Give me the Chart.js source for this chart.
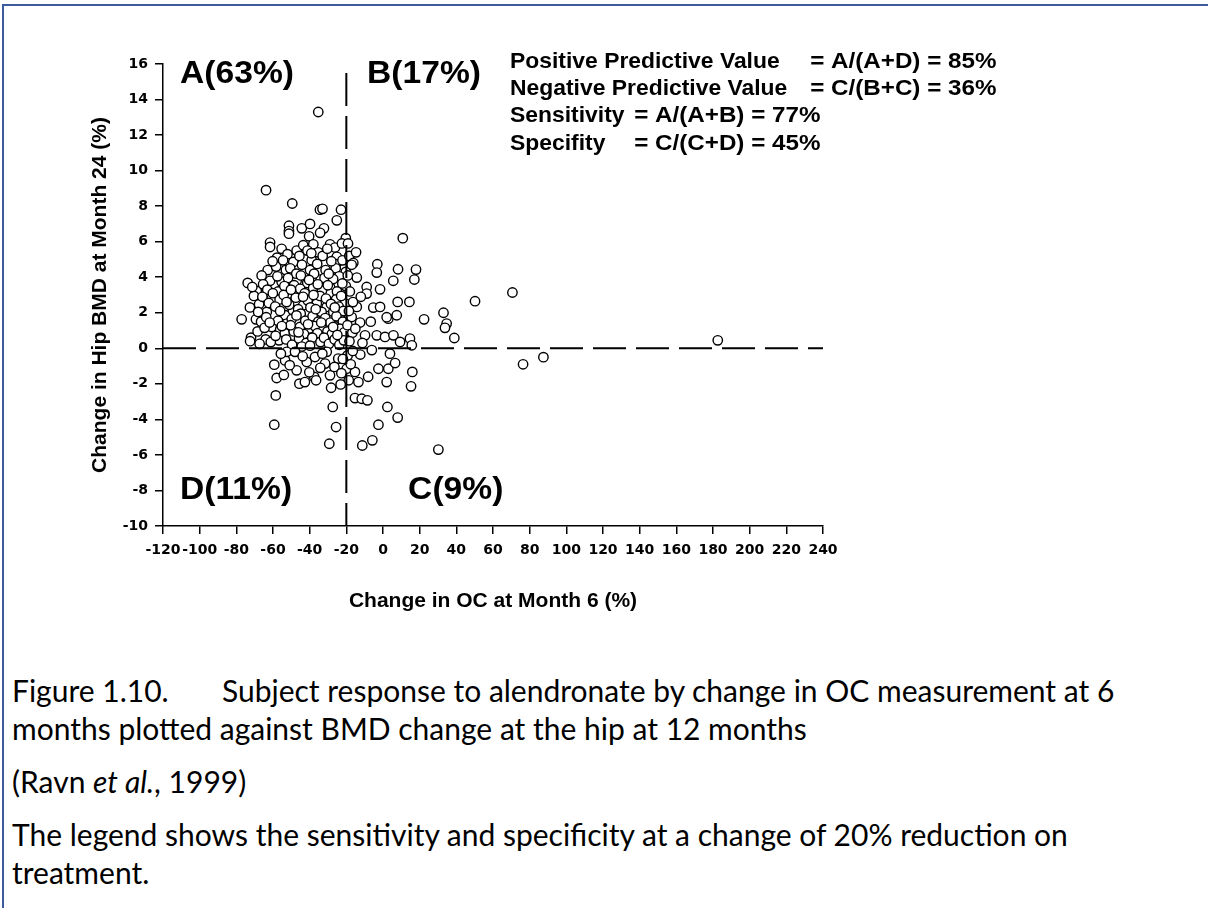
<!DOCTYPE html>
<html>
<head>
<meta charset="utf-8">
<title>Change in OC vs hip BMD</title>
<script src="https://cdn.jsdelivr.net/npm/chart.js@4.4.0/dist/chart.umd.min.js"></script>
<style>
  html, body { margin: 0; padding: 0; background: #fff; }
  body { width: 1208px; height: 908px; position: relative; overflow: hidden; }
  #frame { position: absolute; left: 2px; top: 4px; width: 1220px; height: 920px;
           border-left: 2px solid #3b5b9e; border-top: 2px solid #3b5b9e; }
  #plot { position: absolute; left: 0; top: 0; }
  .cap { position: absolute; left: 12px; white-space: nowrap; font-family: Lato, "Noto Sans", sans-serif;
         font-size: 30px; line-height: 38px; color: #000; }
</style>
</head>
<body>
<div id="frame"></div>
<canvas id="plot" width="1208" height="640"></canvas>
<div class="cap" style="top:671px">Figure 1.10.<span style="position:absolute;left:210px">Subject response to alendronate by change in OC measurement at 6</span></div>
<div class="cap" style="top:709px">months plotted against BMD change at the hip at 12 months</div>
<div class="cap" style="top:762px">(Ravn <i>et al.</i>, 1999)</div>
<div class="cap" style="top:815px">The legend shows the sensitivity and specificity at a change of 20% reduction on</div>
<div class="cap" style="top:853px">treatment.</div>
<script>
'use strict';

// [change in OC at month 6 (%), change in hip BMD at month 24 (%)] by quadrant
var groupA = [
  [-35.3,13.3],[-63.8,8.9],[-49.5,8.15],[-34.4,7.8],[-33.0,7.85],[-22.9,7.8],[-25.2,7.2],[-51.3,6.9],
  [-51.3,6.6],[-51.3,6.45],[-44.3,6.75],[-39.8,7.0],[-32.2,6.75],[-40.3,6.3],[-34.3,6.5],[-61.6,5.95],
  [-61.6,5.7],[-55.3,5.6],[-47.1,5.5],[-43.5,5.8],[-38.0,5.85],[-35.3,5.4],[-28.9,5.85],[-26.2,5.67],
  [-25.2,5.15],[-32.9,5.2],[-48.9,4.86],[-38.9,4.96],[-25.6,4.73],[-62.9,4.4],[-53.0,4.4],[-39.8,4.4],
  [-31.3,4.4],[-25.8,4.5],[-20.3,4.3],[-73.8,3.68],[-61.6,3.8],[-55.3,3.74],[-47.1,3.8],[-41.3,3.68],
  [-34.0,3.87],[-28.9,3.45],[-20.3,3.5],[-68.9,3.23],[-20.3,6.2],[-70.4,2.95],[-67.6,2.48],[-77.1,1.63],
  [-69.3,1.63],[-63.4,2.05],[-60.7,2.8],[-60.7,1.2],[-72.0,0.6],[-72.5,0.4],[-64.0,0.5],[-56.7,0.45],
  [-53.4,1.86],[-52.5,1.39],[-51.3,3.08],[-49.2,2.14],[-45.3,1.2],[-39.8,3.08],[-43.5,2.42],[-36.1,2.52],
  [-33.4,1.11],[-40.2,1.11],[-30.7,2.33],[-27.1,2.05],[-28.9,3.08],[-26.2,1.11],[-20.7,2.52],[-23.4,1.67],
  [-52.1,5.3],[-45.6,5.2],[-41.2,5.5],[-30.4,5.6],[-22.4,5.9],[-57.8,5.1],
  [-58.3,4.6],[-50.6,4.5],[-44.2,4.7],[-35.9,4.75],[-28.2,4.9],[-22.1,4.95],[-66.2,4.1],[-47.3,4.2],
  [-57.6,4.05],[-51.8,3.95],[-44.8,4.1],[-37.6,4.2],[-31.9,3.95],[-23.9,4.05],[-65.4,3.6],[-27.2,3.9],[-48.5,3.55],
  [-71.3,3.45],[-63.1,3.3],[-57.2,3.2],[-53.8,3.5],[-45.2,3.35],[-38.1,3.4],[-33.3,3.25],[-25.1,3.2],
  [-22.2,3.65],[-42.7,3.1],[-35.6,3.6],
  [-65.8,2.9],[-56.4,2.75],[-54.2,3.0],[-47.6,2.85],[-41.1,2.7],[-34.4,2.95],[-31.1,2.8],[-25.6,2.75],
  [-22.8,2.95],[-62.3,2.55],[-37.9,3.0],
  [-72.6,2.3],[-68.1,2.05],[-58.8,2.35],[-56.1,2.1],[-51.2,2.45],[-46.3,2.2],[-39.6,2.3],[-33.5,2.05],
  [-28.4,2.5],[-24.2,2.35],[-21.6,2.1],[-44.9,1.95],
  [-66.5,1.5],[-63.7,1.75],[-57.3,1.55],[-49.8,1.65],[-47.2,1.85],[-42.4,1.55],[-38.4,1.8],[-35.3,1.5],
  [-31.5,1.7],[-28.7,1.45],[-25.4,1.8],[-21.9,1.5],
  [-68.4,0.95],[-64.6,1.15],[-56.1,1.05],[-53.6,0.85],[-48.7,0.95],[-43.1,0.8],[-37.2,1.25],[-35.8,0.85],
  [-30.3,0.95],[-27.9,0.8],[-23.6,1.1],[-21.1,0.9],[-50.4,1.3],
  [-67.3,0.25],[-61.2,0.35],[-58.6,0.7],[-52.8,0.5],[-49.6,0.2],[-45.8,0.55],[-41.9,0.3],[-38.6,0.6],
  [-34.1,0.35],[-32.2,0.6],[-29.5,0.25],[-26.4,0.5],[-23.8,0.2],[-21.4,0.45],[-44.3,0.1],
  [-60.2,4.9],[-54.5,4.95],[-39.1,5.35],[-29.6,4.2],[-50.2,3.3],[-40.3,3.85],[-30.1,3.55],[-60.1,3.1],
  [-52.6,2.6],[-43.6,2.9],[-36.7,2.2],[-26.3,2.3],[-61.8,1.45],[-55.2,1.25],[-40.9,1.35],[-33.7,1.45],
  [-46.1,0.9],[-39.8,0.15],[-27.2,1.2],[-24.9,0.75]
];
var groupB = [
  [-18.4,5.2],[-14.7,5.4],[-16.2,4.8],[-14.3,3.98],[-3.1,4.73],[-3.4,4.26],[8.2,4.45],[18.0,4.43],
  [17.1,3.87],[5.6,3.8],[-1.6,3.32],[-8.9,3.45],[10.8,6.2],[-17.1,1.76],[-16.7,0.88],[-14.3,2.33],
  [-8.9,3.08],[-12.5,1.45],[-5.3,2.29],[-1.6,2.33],[-9.8,0.73],[-3.4,0.73],[1.1,0.64],[5.7,0.73],
  [2.9,1.67],[7.5,1.86],[8.0,2.61],[14.4,2.61],[9.3,0.36],[14.7,0.55],[15.7,0.17],[22.4,1.63],
  [33.0,2.0],[34.7,1.39],[33.8,1.15],[38.9,0.58],[50.2,2.65],[70.6,3.14],[182.6,0.45],[2.0,1.75],
  [-19.2,4.1],[-18.1,3.2],[-16.4,2.6],[-18.6,2.1],[-12.1,2.9],[-19.4,1.3],[-15.1,1.1],[-18.3,0.4],
  [-11.2,0.3],[-6.7,1.5],[-19.1,5.9],[-17.1,4.7]
];
var groupC = [
  [-19.8,-1.15],[-15.3,-1.33],[-13.4,-1.9],[-15.3,-2.8],[-11.6,-2.84],[-8.5,-2.93],[-11.3,-5.47],[-5.8,-5.18],
  [-2.5,-4.3],[2.4,-3.3],[8.0,-3.9],[-6.1,-0.1],[-2.5,-1.15],[3.8,-0.3],[2.9,-1.15],[6.6,-0.83],
  [2.0,-1.9],[16.0,-1.33],[15.3,-2.14],[30.2,-5.7],[87.5,-0.5],[76.4,-0.9],
  [-19.3,-0.4],[-17.6,-0.9],[-12.4,-0.35],[-18.7,-1.8],[-16.5,-0.15],[-8.1,-1.6]
];
var groupD = [
  [-59.3,-0.92],[-58.0,-1.67],[-58.5,-2.65],[-59.3,-4.3],[-53.4,-0.68],[-52.5,-0.2],[-48.0,-0.2],[-47.1,-1.24],
  [-45.6,-1.99],[-41.6,-0.77],[-37.5,-1.61],[-36.5,-1.8],[-37.1,-0.49],[-30.7,-0.2],[-31.6,-0.86],[-28.9,-1.52],
  [-28.3,-2.22],[-24.4,-0.58],[-23.1,-2.03],[-27.4,-3.3],[-25.6,-4.43],[-29.3,-5.37],
  [-55.7,-0.3],[-50.9,-0.95],[-43.8,-0.45],[-40.2,-1.35],[-34.2,-1.1],[-33.1,-0.3],[-26.5,-1.05],[-21.9,-0.6],
  [-22.7,-1.4],[-42.6,-1.9],[-54.1,-1.5]
];

// cut-off at a 20% reduction in OC, and no change in BMD
var ocCutoff = -20;
var bmdCutoff = 0;

var quadrantNames = ['A(63%)', 'B(17%)', 'C(9%)', 'D(11%)'];
var legendNames = ['Positive Predictive Value', 'Negative Predictive Value', 'Sensitivity', 'Specifity'];
var legendFormulas = ['= A/(A+D) = 85%', '= C/(B+C) = 36%', '= A/(A+B) = 77%', '= C/(C+D) = 45%'];

var FONT = '"Liberation Sans", Arial, Helvetica, sans-serif';

var toPoints = function(rows) {
  return rows.map(function(r) { return {x: r[0], y: r[1]}; });
};
var allPoints = [].concat(toPoints(groupA), toPoints(groupB), toPoints(groupC), toPoints(groupD));

// quadrant letters and the predictive value block, anchored in data units
var quadrantSpots = [[-110.7, 15.4], [-8.7, 15.4], [13.7, -8.0], [-110.7, -8.0]];
var legendRowY = [16.1, 14.6, 13.05, 11.5];

var wideText = function(ctx, text, px, py, sx) {
  ctx.save();
  ctx.translate(px, py);
  ctx.scale(sx, 1);
  ctx.fillText(text, 0, 0);
  ctx.restore();
};

var notes = {
  id: 'notes',
  afterDatasetsDraw: function(chart) {
    var ctx = chart.ctx;
    var xs = chart.scales.x, ys = chart.scales.y;
    ctx.save();
    ctx.fillStyle = '#000';
    ctx.textBaseline = 'middle';
    ctx.textAlign = 'left';

    ctx.font = 'bold 32px ' + FONT;
    quadrantNames.forEach(function(t, i) {
      wideText(ctx, t, xs.getPixelForValue(quadrantSpots[i][0]), ys.getPixelForValue(quadrantSpots[i][1]), 1.05);
    });

    ctx.font = 'bold 22px ' + FONT;
    var nameX = xs.getPixelForValue(69.3);
    legendNames.forEach(function(t, i) {
      var py = ys.getPixelForValue(legendRowY[i]);
      var eqX = xs.getPixelForValue(i < 2 ? 233 : 137);
      wideText(ctx, t, nameX, py, 1.04);
      wideText(ctx, legendFormulas[i], eqX, py, 1.1);
    });
    ctx.restore();
  }
};

var tickFont = {family: '"DejaVu Sans", sans-serif', size: 14, weight: 'bold'};
var titleFont = {family: FONT, size: 21, weight: 'bold'};

new Chart(document.getElementById('plot'), {
  type: 'scatter',
  data: {
    datasets: [
      {
        data: [{x: ocCutoff, y: 15.5}, {x: ocCutoff, y: -10}],
        showLine: true, borderColor: '#000', borderWidth: 2, borderDash: [33, 10], pointRadius: 0
      },
      {
        data: [{x: -120, y: bmdCutoff}, {x: 240, y: bmdCutoff}],
        showLine: true, borderColor: '#000', borderWidth: 2, borderDash: [33, 10], pointRadius: 0
      },
      {
        data: allPoints,
        pointRadius: 4.7,
        pointBorderWidth: 1.4,
        pointBackgroundColor: '#fff',
        pointBorderColor: '#000'
      }
    ]
  },
  options: {
    responsive: false,
    animation: false,
    devicePixelRatio: 1,
    layout: {padding: {left: 83, right: 385, top: 64, bottom: 24}},
    plugins: {legend: {display: false}, tooltip: {enabled: false}},
    scales: {
      x: {
        type: 'linear', min: -120, max: 240,
        afterFit: function(s) { s.height = 90; },
        ticks: {stepSize: 20, autoSkip: false, maxRotation: 0, minRotation: 0, padding: 8, color: '#000', font: tickFont},
        grid: {drawOnChartArea: false, drawTicks: true, tickLength: 8, color: '#000', lineWidth: 1.5},
        border: {display: true, color: '#000', width: 1.5},
        title: {display: true, text: 'Change in OC at Month 6 (%)', color: '#000', font: titleFont, padding: {top: 0, bottom: 2}}
      },
      y: {
        type: 'linear', min: -10, max: 16,
        afterFit: function(s) { s.width = 80; },
        ticks: {stepSize: 2, padding: 7, color: '#000', font: tickFont},
        grid: {drawOnChartArea: false, drawTicks: true, tickLength: 8, color: '#000', lineWidth: 1.5},
        border: {display: true, color: '#000', width: 1.5},
        title: {display: true, text: 'Change in Hip BMD at Month 24 (%)', color: '#000', font: titleFont, padding: {top: 5, bottom: 0}}
      }
    }
  },
  plugins: [notes]
});
</script>
</body>
</html>
